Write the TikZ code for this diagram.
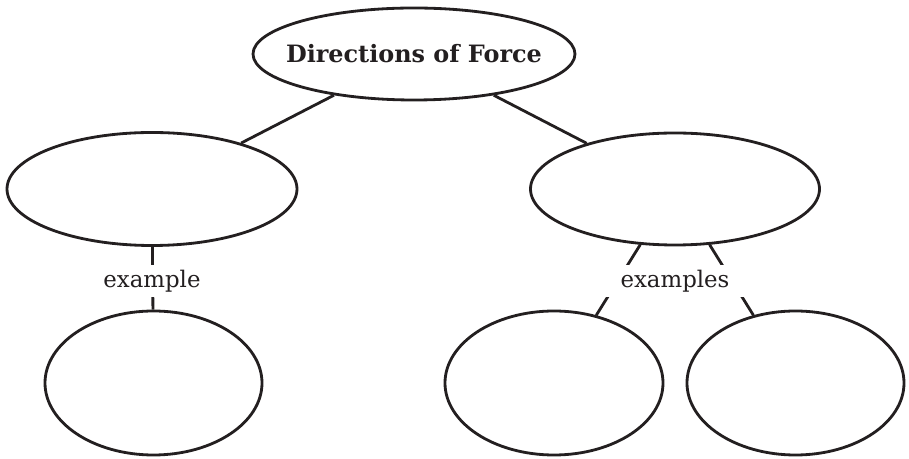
\documentclass[tikz,border=0pt]{standalone}
\usepackage{fontspec}
\setmainfont{DejaVu Serif}
\usetikzlibrary{shapes.geometric}
\definecolor{ink}{RGB}{35,31,32}

\begin{document}
\begin{tikzpicture}[line width=1.6pt, draw=ink, text=ink,
    bubble/.style={draw=ink, ellipse, line width=1.6pt, inner sep=0pt},
    tag/.style={fill=white, inner sep=0pt, minimum height=0.64cm, font=\fontsize{13}{15}\selectfont}]
    \useasboundingbox (0,0) rectangle (18.18,9.18);

    % top of the map
    \node[bubble, minimum width=6.44cm, minimum height=1.84cm] (force) at (8.28,8.1) {};
    \node[font=\fontsize{13.6}{16}\selectfont\bfseries] (title) at (force.center) {Directions of Force};

    % second row
    \node[bubble, minimum width=5.8cm, minimum height=2.26cm] (leftdir) at (3.04,5.4) {};
    \node[bubble, minimum width=5.78cm, minimum height=2.24cm] (rightdir) at (13.5,5.4) {};

    % examples row
    \node[bubble, minimum width=4.34cm, minimum height=2.88cm] (leftex) at (3.07,1.52) {};
    \node[bubble, minimum width=4.36cm, minimum height=2.88cm] (midex) at (11.08,1.52) {};
    \node[bubble, minimum width=4.34cm, minimum height=2.88cm] (rightex) at (15.91,1.52) {};

    \draw[-, ink] (force) -- (leftdir);
    \draw[-, ink] (force) -- (rightdir);
    \draw[-, ink] (leftdir) -- (leftex);
    \draw[-, ink] (rightdir) -- (midex);
    \draw[-, ink] (rightdir) -- (rightex);

    \node[tag] (exone) at (3.04,3.56) {example};
    \node[tag, minimum width=2.8cm] (exmany) at (13.5,3.56) {examples};

\end{tikzpicture}
\end{document}
